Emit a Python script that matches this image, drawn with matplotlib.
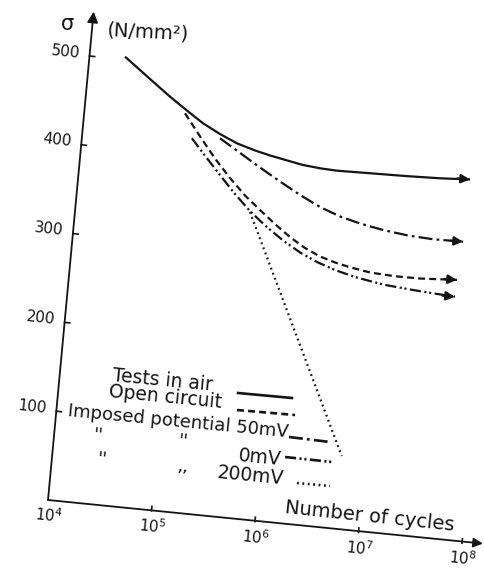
import numpy as np
import matplotlib.pyplot as plt
from matplotlib.transforms import Affine2D

plt.rcParams['lines.scale_dashes'] = False
plt.rcParams['mathtext.default'] = 'regular'

# S-N curves: number of cycles vs stress (N/mm2)
air_cycles = [2.19e4, 3.98e4, 6.41e4, 1.03e5, 1.40e5, 2.08e5, 3.08e5, 4.66e5, 6.55e5,
              1.03e6, 1.38e6, 2.02e6, 2.96e6, 6.15e6, 1.34e7, 2.90e7, 5.64e7]
air_stress = [503.4, 481.4, 464.0, 448.1, 438.2, 428.2, 419.8, 413.9, 410.1,
              405.9, 403.3, 401.6, 400.9, 401.9, 402.9, 404.4, 406.6]

open_cycles = [9.23e4, 1.35e5, 1.96e5, 2.84e5, 4.10e5, 5.87e5, 8.41e5, 1.20e6,
               1.71e6, 2.43e6, 3.42e6, 4.81e6, 7.55e6, 1.32e7, 2.30e7, 5.21e7]
open_stress = [447.2, 423.1, 400.3, 380.3, 362.5, 348.1, 334.2, 321.5,
               311.0, 303.2, 298.3, 294.7, 291.2, 289.9, 290.3, 293.0]

mv50_cycles = [2.10e5, 3.37e5, 5.38e5, 8.61e5, 1.38e6, 2.19e6, 3.47e6, 5.47e6,
               9.20e6, 1.61e7, 2.82e7, 5.50e7]
mv50_stress = [423.4, 409.4, 395.5, 382.2, 369.5, 358.4, 350.2, 344.7,
               340.1, 336.9, 335.6, 336.4]

mv0_cycles = [1.13e5, 1.57e5, 2.26e5, 3.28e5, 4.72e5, 6.78e5, 1.04e6, 1.55e6,
              2.30e6, 3.47e6, 5.47e6, 1.03e7, 1.89e7, 3.16e7, 5.16e7]
mv0_stress = [420.2, 402.0, 382.5, 363.0, 345.8, 331.4, 316.8, 305.4,
              296.7, 289.9, 284.4, 279.3, 276.9, 275.3, 274.1]

mv200_cycles = [4.73e5, 5.90e6]
mv200_stress = [344.7, 83.3]

y_ticks = [100, 200, 300, 400, 500]
x_decades = [4, 5, 6, 7, 8]

ink = '#141414'

fig = plt.figure(figsize=(4.84, 5.73), dpi=100)
ax = fig.add_axes([0, 0, 1, 1])

# the scanned figure is slightly rotated: map (log10 N, stress) onto page pixels
skew = Affine2D(np.array([[103.5, 0.083, 48 - 4 * 103.5],
                          [10.8, -0.888, 500 - 4 * 10.8],
                          [0.0, 0.0, 1.0]]))
T = skew + ax.transData


def curve(cycles, stress, dashes, arrow=True):
    x = np.log10(cycles)
    y = np.array(stress, dtype=float)
    ax.plot(x, y, color=ink, lw=1.6, dashes=dashes, transform=T,
            solid_capstyle='butt', dash_capstyle='butt', solid_joinstyle='round')
    if arrow:
        ax.annotate('', xy=(x[-1], y[-1]), xytext=(x[-1] - 0.12, y[-1] - 0.3),
                    xycoords=T, textcoords=T,
                    arrowprops=dict(arrowstyle='-|>', color=ink, lw=1.6,
                                    mutation_scale=13, shrinkA=0, shrinkB=0))


curve(air_cycles, air_stress, (None, None))
curve(open_cycles, open_stress, (5, 3))
curve(mv50_cycles, mv50_stress, (10, 3, 2, 3))
curve(mv0_cycles, mv0_stress, (8, 2.5, 1.5, 2, 1.5, 2.5))
curve(mv200_cycles, mv200_stress, (1.3, 2.6), arrow=False)

# axes with arrow heads
ax.annotate('', xy=(4, 550), xytext=(4, 0), xycoords=T, textcoords=T,
            arrowprops=dict(arrowstyle='-|>', color=ink, lw=1.3,
                            mutation_scale=16, shrinkA=0, shrinkB=0))
ax.annotate('', xy=(8.2, 2), xytext=(4, 0), xycoords=T, textcoords=T,
            arrowprops=dict(arrowstyle='-|>', color=ink, lw=1.3,
                            mutation_scale=14, shrinkA=0, shrinkB=0))

for v in y_ticks:
    ax.plot([4, 4.05], [v, v], color=ink, lw=1.2, transform=T)
    ax.text(3.905, v + 2, str(v), transform=T, ha='right', va='center',
            rotation=-6, rotation_mode='anchor', fontsize=11, color=ink)

for k in x_decades:
    if k > 4:
        ax.plot([k, k], [0, 5], color=ink, lw=1.2, transform=T)
    ax.text(k + 0.02, -17, '$10^{%d}$' % k, transform=T, ha='center', va='center',
            rotation=-6, rotation_mode='anchor', fontsize=11, color=ink)

# axis titles (page pixel coordinates)
ax.text(67, 24, 'σ', ha='center', va='center', fontsize=15, color=ink)
ax.text(148, 32, '(N/mm²)', ha='center', va='center', rotation=-3,
        fontsize=14, color=ink)
ax.text(370, 516, 'Number of cycles', ha='center', va='center', rotation=-6,
        rotation_mode='anchor', fontsize=14, color=ink)

# legend
legend_text = [
    (163, 380, 'Tests in air', 13.5),
    (165, 397, 'Open circuit', 13.5),
    (178, 422, 'Imposed potential 50mV', 13),
    (260, 458, '0mV', 13.5),
    (250, 476, '200mV', 13.5),
    (98, 435, "''", 13),
    (183, 441, "''", 13),
    (102, 459, "''", 13),
    (183, 467, ',,', 13),
]
for x, y, s, fs in legend_text:
    ax.text(x, y, s, ha='center', va='center', rotation=-5.5,
            rotation_mode='anchor', fontsize=fs, color=ink)

legend_lines = [
    ((238, 292), (393, 398), (None, None)),
    ((237, 295), (410, 415), (5, 3)),
    ((289, 330), (437, 442), (10, 3, 2, 3)),
    ((285, 332), (457, 462), (8, 2.5, 1.5, 2, 1.5, 2.5)),
    ((297, 330), (483, 486), (1.3, 2.6)),
]
for xs, ys, d in legend_lines:
    ax.plot(xs, ys, color=ink, lw=1.9, dashes=d, dash_capstyle='butt')

ax.set_xlim(0, 484)
ax.set_ylim(573, 0)
ax.axis('off')

fig.savefig('out.png', dpi=100)
